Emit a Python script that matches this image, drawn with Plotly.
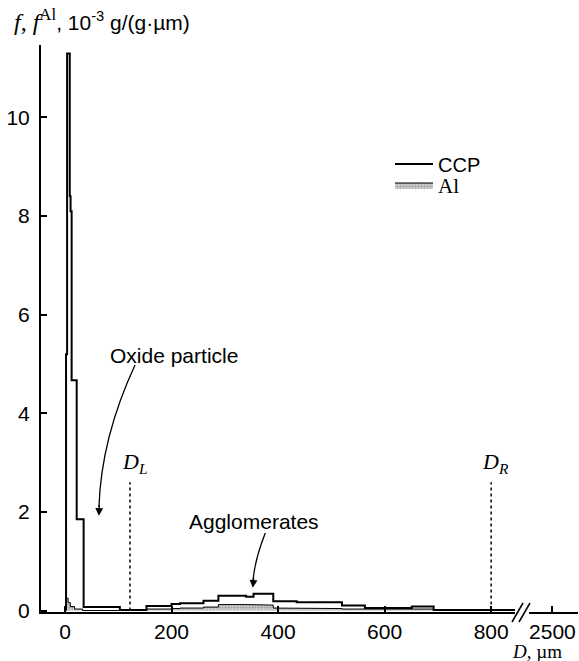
import plotly.graph_objects as go

# ---------------- data ----------------
# CCP size distribution (step histogram): bin edges in micrometres, values in 1e-3 g/(g*um)
ccp_edges = [2, 4, 9, 10.5, 12.5, 22, 35, 103, 153, 200, 216, 260, 288, 340, 354,
             391, 435, 520, 563, 601, 651, 692, 850]
ccp_vals = [5.2, 11.3, 8.4, 8.1, 4.67, 1.85, 0.07, 0.01, 0.09, 0.13, 0.15, 0.20, 0.30,
            0.28, 0.34, 0.19, 0.17, 0.10, 0.05, 0.05, 0.08, 0.01]

# Al distribution (shaded step histogram)
al_edges = [2, 6, 10, 18, 33, 153, 200, 216, 260, 288, 340, 354, 391, 435, 520, 563,
            601, 651, 692]
al_vals = [0.25, 0.16, 0.08, 0.03, 0.0, 0.03, 0.04, 0.05, 0.07, 0.12, 0.12, 0.11, 0.05,
           0.04, 0.03, 0.03, 0.03, 0.03]

x_tick_values = [0, 200, 400, 600, 800, 2500]
x_tick_labels = ["0", "200", "400", "600", "800", "2500"]
y_tick_values = [0, 2, 4, 6, 8, 10]

D_L = 122
D_R = 800

# ---------------- broken x axis mapping ----------------
BREAK_AT = 858          # axis coordinate where the break is drawn
POS_2500 = 915          # axis coordinate used for D = 2500 after the break


def xmap(d):
    return d if d <= BREAK_AT else POS_2500 + (d - 2500) * 0.05


def steps(edges, vals):
    xs = [xmap(edges[0])]
    ys = [0]
    for i, v in enumerate(vals):
        xs += [xmap(edges[i]), xmap(edges[i + 1])]
        ys += [v, v]
    xs.append(xmap(edges[-1]))
    ys.append(0)
    return xs, ys


SANS = "Liberation Sans, Arial, sans-serif"
SERIF = "Liberation Serif, Times New Roman, serif"

fig = go.Figure()

ax_, ay_ = steps(al_edges, al_vals)
fig.add_trace(go.Scatter(
    x=ax_, y=ay_, mode="lines", fill="toself",
    fillcolor="#c4c4c4",
    fillpattern=dict(shape=".", bgcolor="#cccccc", fgcolor="#6a6a6a", size=3, solidity=0.35),
    line=dict(color="black", width=1),
    name="<span style='font-family:Liberation Serif;font-size:21px'>Al</span>",
    legend="legend2", hoverinfo="skip",
))

cx, cy = steps(ccp_edges, ccp_vals)
fig.add_trace(go.Scatter(
    x=cx, y=cy, mode="lines", line=dict(color="black", width=2),
    name="CCP", legend="legend", hoverinfo="skip",
))

# plot-area pixel geometry (for decorations placed in paper coordinates)
L, R, T, B = 41, 578, 45, 612
W, H = 579, 661


def px(xp):
    return (xp - L) / (R - L)


def py(yp):
    return (B - yp) / (B - T)


shapes = []
# D_L / D_R dotted lines
for d in (D_L, D_R):
    shapes.append(dict(type="line", xref="x", yref="y", x0=xmap(d), x1=xmap(d), y0=0, y1=2.6,
                       line=dict(color="black", width=1.5, dash="dot")))
# axis break
shapes.append(dict(type="rect", xref="paper", yref="paper", x0=px(515), x1=px(529),
                   y0=py(616), y1=py(607), fillcolor="white", line=dict(width=0), layer="above"))
for x0 in (512, 519):
    shapes.append(dict(type="line", xref="paper", yref="paper", x0=px(x0), y0=py(622),
                       x1=px(x0 + 11), y1=py(603), line=dict(color="black", width=1.5),
                       layer="above"))
# curved arrows
shapes.append(dict(type="path", xref="x", yref="y",
                   path="M 131.5 4.98 Q 68 3.5 63.8 2.1",
                   line=dict(color="black", width=1.3)))
shapes.append(dict(type="path", xref="x", yref="y",
                   path="M 376 1.57 Q 357 1.05 353 0.62",
                   line=dict(color="black", width=1.3)))

annotations = [
    dict(xref="paper", yref="paper", x=px(12), y=py(20), xanchor="left", yanchor="middle",
         showarrow=False, font=dict(family=SANS, size=21, color="black"),
         text="<span style='font-family:Liberation Serif;font-size:24px'><i>f</i>, <i>f</i>"
              "<sup>Al</sup></span>, 10<sup>-3</sup> g/(g·µm)"),
    dict(xref="paper", yref="paper", x=px(537), y=py(651), xanchor="center", yanchor="middle",
         showarrow=False, font=dict(family=SERIF, size=19, color="black"),
         text="<i>D</i>, µm"),
    dict(xref="x", yref="y", x=xmap(D_L) + 9, y=3.0, showarrow=False,
         font=dict(family=SERIF, size=22, color="black"),
         text="<i>D</i><sub><i>L</i></sub>"),
    dict(xref="x", yref="y", x=xmap(D_R) + 9, y=3.0, showarrow=False,
         font=dict(family=SERIF, size=22, color="black"),
         text="<i>D</i><sub><i>R</i></sub>"),
    dict(xref="x", yref="y", x=205, y=5.18, showarrow=False,
         font=dict(family=SANS, size=21, color="black"), text="Oxide particle"),
    dict(xref="x", yref="y", x=355, y=1.81, showarrow=False,
         font=dict(family=SANS, size=21, color="black"), text="Agglomerates"),
    # arrow heads
    dict(xref="x", yref="y", x=63.6, y=1.92, ax=0.5, ay=-12, text="", showarrow=True,
         arrowhead=2, arrowsize=1.2, arrowwidth=1.3, arrowcolor="black"),
    dict(xref="x", yref="y", x=352.6, y=0.46, ax=1, ay=-12, text="", showarrow=True,
         arrowhead=2, arrowsize=1.2, arrowwidth=1.3, arrowcolor="black"),
]

legend_common = dict(xanchor="left", yanchor="middle", bgcolor="rgba(0,0,0,0)",
                     font=dict(family=SANS, size=20, color="black"), itemwidth=38)

fig.update_layout(
    width=W, height=H,
    margin=dict(l=L, r=W - R, t=T, b=H - B),
    paper_bgcolor="white", plot_bgcolor="white",
    font=dict(family=SANS, size=21, color="black"),
    showlegend=True,
    legend=dict(x=px(390), y=py(164), **legend_common),
    legend2=dict(x=px(390), y=py(185), **legend_common),
    shapes=shapes, annotations=annotations,
    xaxis=dict(range=[-45, 963], showgrid=False, zeroline=False, showline=True,
               linecolor="black", linewidth=2, ticks="inside", ticklen=6, tickwidth=1.5,
               tickcolor="black", tickvals=[xmap(v) for v in x_tick_values],
               ticktext=x_tick_labels, tickfont=dict(family=SANS, size=21),
               ticklabelstandoff=0, layer="above traces"),
    yaxis=dict(range=[-0.03, 11.47], showgrid=False, zeroline=False, showline=True,
               linecolor="black", linewidth=2, ticks="inside", ticklen=6, tickwidth=2,
               tickcolor="black", tickvals=y_tick_values, tickfont=dict(family=SANS, size=21),
               ticklabelstandoff=5),
)

fig.write_html("out.html")
